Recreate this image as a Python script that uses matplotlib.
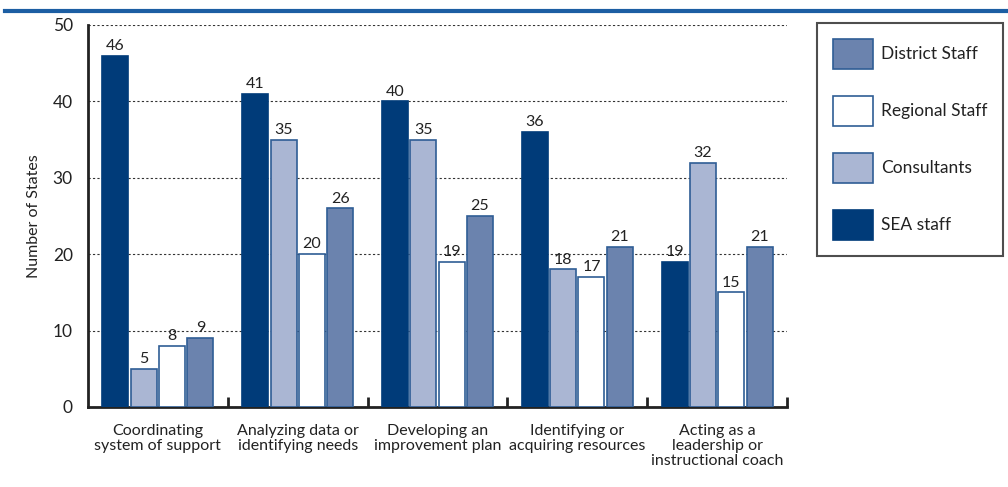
import matplotlib
matplotlib.use('Agg')
import matplotlib.pyplot as plt
import numpy as np

plt.rcParams['font.family'] = ['Lato', 'DejaVu Sans']

# data
categories = ['Coordinating\nsystem of support',
              'Analyzing data or\nidentifying needs',
              'Developing an\nimprovement plan',
              'Identifying or\nacquiring resources',
              'Acting as a\nleadership or\ninstructional coach']
series_names = ['SEA staff', 'Consultants', 'Regional Staff', 'District Staff']
sea_staff = [46, 41, 40, 36, 19]
consultants = [5, 35, 35, 18, 32]
regional_staff = [8, 20, 19, 17, 15]
district_staff = [9, 26, 25, 21, 21]

fills = ['#003b79', '#aab6d3', '#ffffff', '#6b83ae']
edges = ['#003b79', '#2f5d95', '#2f5d95', '#2f5d95']

fig = plt.figure(figsize=(10.08, 4.87), dpi=100)
ax = fig.add_axes([0.0873, 0.1643, 0.6935, 0.7844])

x = np.arange(len(categories)) + 0.5
step = 0.2025
width = 0.186
handles = []
for i, vals in enumerate([sea_staff, consultants, regional_staff, district_staff]):
    pos = x + (i - 1.5) * step
    b = ax.bar(pos, vals, width, color=fills[i], edgecolor=edges[i], linewidth=1.2,
               label=series_names[i], zorder=3)
    handles.append(b)
    for p, v in zip(pos, vals):
        ax.annotate(str(v), (p, v), xytext=(0, 2), textcoords='offset points',
                    ha='center', va='bottom', fontsize=11.5, color='#222222', zorder=4)

ax.set_xlim(0, 5)
ax.set_ylim(0, 50)
ax.set_yticks([0, 10, 20, 30, 40, 50])
ax.tick_params(axis='y', length=0, labelsize=12.5, labelcolor='#222222', pad=11)
ax.set_xticks(x)
ax.set_xticklabels(categories, fontsize=11.5, color='#222222', linespacing=1.1)
ax.tick_params(axis='x', which='major', length=0, pad=12)
ax.set_xticks([1, 2, 3, 4, 5], minor=True)
ax.tick_params(axis='x', which='minor', direction='in', length=7, width=2, color='#222222')
ax.yaxis.grid(True, linestyle=(0, (2, 2)), color='#333333', linewidth=0.8, zorder=0)
for s in ['top', 'right']:
    ax.spines[s].set_visible(False)
for s in ['left', 'bottom']:
    ax.spines[s].set_linewidth(2)
    ax.spines[s].set_color('#222222')
ax.set_ylabel('Number of States', fontsize=11.5, color='#222222', labelpad=8)

# legend in reverse order
leg = fig.legend(handles[::-1], series_names[::-1], loc='upper left',
                 bbox_to_anchor=(0.8105, 0.9528), frameon=True, fancybox=False,
                 fontsize=12.5, handlelength=2.3, handleheight=2.3, labelspacing=1.55,
                 handletextpad=0.5, borderpad=0.9, borderaxespad=0)
leg.get_frame().set_edgecolor('#222222')
leg.get_frame().set_linewidth(1.5)
for t in leg.get_texts():
    t.set_color('#222222')

# blue rule at top
fig.add_artist(plt.Line2D([0.005, 1.0], [0.977, 0.977], color='#1c5ea3', linewidth=3))

plt.savefig('out.png', dpi=100)
